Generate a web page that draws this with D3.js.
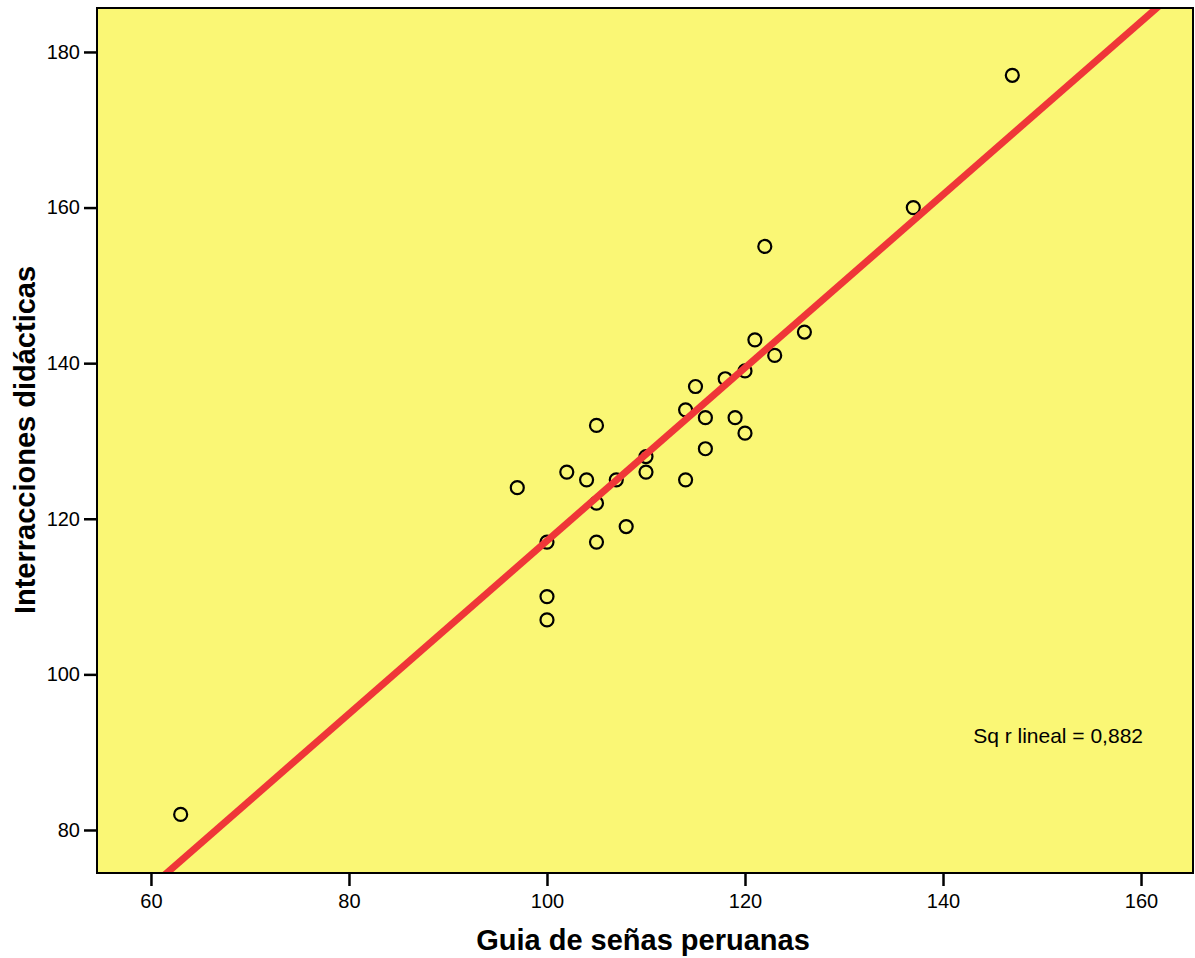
<!DOCTYPE html>
<html><head><meta charset="utf-8">
<script src="https://cdn.jsdelivr.net/npm/d3@7"></script>
<style>body{margin:0;background:#fff}svg{display:block}</style>
</head><body>
<script>
const guia = [63,97,100,100,100,102,104,105,105,105,107,108,110,110,114,114,115,116,116,118,119,120,120,121,122,123,126,137,147];
const interacciones = [82,124,117,110,107,126,125,132,122,117,125,119,128,126,134,125,137,133,129,138,133,139,131,143,155,141,144,160,177];
const fitIntercept = 5.97;   // fitted line as drawn in the reference
const fitSlope = 1.112;
const xTicks = [60,80,100,120,140,160];
const yTicks = [80,100,120,140,160,180];
const xTitle = "Guia de señas peruanas";
const yTitle = "Interracciones didácticas";
const r2Label = "Sq r lineal = 0,882";

const W = 1195, H = 958;
const m = {left:97, right:2, top:8, bottom:85};
const pw = W - m.left - m.right, ph = H - m.top - m.bottom;
const svg = d3.select("body").append("svg").attr("width", W).attr("height", H);
const g = svg.append("g").attr("transform", `translate(${m.left},${m.top})`);

const x = d3.scaleLinear().domain([54.55, 165.25]).range([0, pw]);
const y = d3.scaleLinear().domain([74.47, 185.65]).range([ph, 0]);

g.append("rect").attr("width", pw).attr("height", ph).attr("fill", "#faf775");

const defs = svg.append("defs");
defs.append("clipPath").attr("id","clip").append("rect").attr("width", pw).attr("height", ph);

const pts = guia.map((v,i)=>({x:v, y:interacciones[i]}));
g.append("g").selectAll("circle").data(pts).join("circle")
  .attr("cx", d=>x(d.x)).attr("cy", d=>y(d.y)).attr("r", 6.5)
  .attr("fill","none").attr("stroke","#000").attr("stroke-width",2.2);

const xd = x.domain();
g.append("line").attr("clip-path","url(#clip)")
  .attr("x1", x(xd[0])).attr("y1", y(fitIntercept + fitSlope*xd[0]))
  .attr("x2", x(xd[1])).attr("y2", y(fitIntercept + fitSlope*xd[1]))
  .attr("stroke", "#ef3638").attr("stroke-width", 7);

g.append("rect").attr("width", pw).attr("height", ph).attr("fill","none").attr("stroke","#000").attr("stroke-width",2);

const font = "'Liberation Sans', Arial, sans-serif";
const xa = g.append("g").attr("transform", `translate(0,${ph})`)
  .call(d3.axisBottom(x).tickValues(xTicks).tickSize(13).tickPadding(8).tickFormat(d3.format("d")));
const ya = g.append("g")
  .call(d3.axisLeft(y).tickValues(yTicks).tickSize(13).tickPadding(4).tickFormat(d3.format("d")));
[xa, ya].forEach(ax => {
  ax.select(".domain").remove();
  ax.selectAll(".tick line").attr("stroke","#000").attr("stroke-width",2.5);
  ax.selectAll(".tick text").attr("fill","#000").style("font-family", font).style("font-size","20px");
});

g.append("text").attr("x", x(160.2)).attr("y", y(91.2))
  .attr("text-anchor","end").style("font-family", font).style("font-size","21px").attr("fill","#000")
  .text(r2Label);

svg.append("text").attr("x", 643).attr("y", 950)
  .attr("text-anchor","middle").style("font-family", font).style("font-size","29px").style("font-weight","bold")
  .text(xTitle);
svg.append("text").attr("transform", `translate(35,${440}) rotate(-90)`)
  .attr("text-anchor","middle").style("font-family", font).style("font-size","29px").style("font-weight","bold")
  .text(yTitle);
</script>
</body></html>
